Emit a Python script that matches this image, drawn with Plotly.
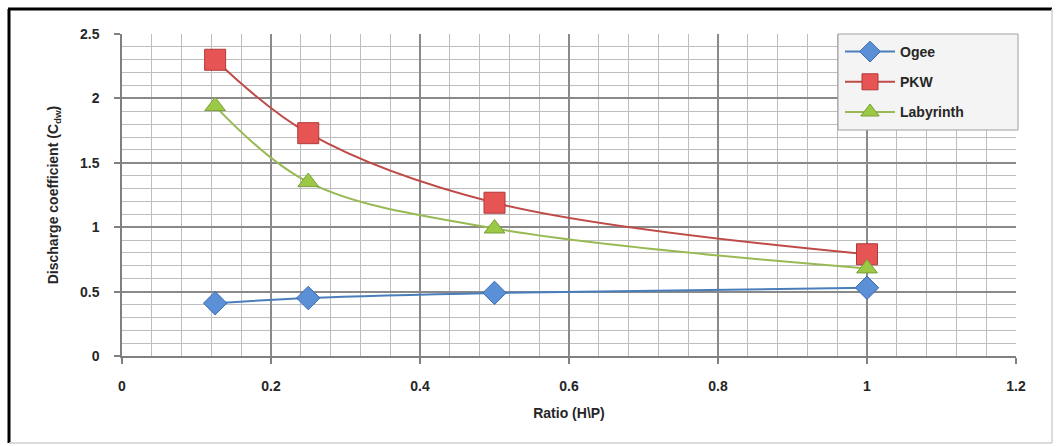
import plotly.graph_objects as go

ratio = [0.125, 0.25, 0.5, 1.0]
ogee = [0.41, 0.45, 0.49, 0.53]
pkw = [2.30, 1.73, 1.19, 0.79]
labyrinth = [1.94, 1.35, 0.99, 0.68]

x_ticks = [0, 0.2, 0.4, 0.6, 0.8, 1, 1.2]
x_tick_text = ["0", "0.2", "0.4", "0.6", "0.8", "1", "1.2"]
y_ticks = [0, 0.5, 1, 1.5, 2, 2.5]
y_tick_text = ["0", "0.5", "1", "1.5", "2", "2.5"]

W, H = 1057, 446
L, R, T, B = 122, 41, 34, 90
pw, ph = W - L - R, H - T - B

def px(x):
    return (x - L) / pw

def py(y):
    return (H - B - y) / ph

font = "Liberation Sans"
txt = "#262626"
bold = dict(family=font, size=14, color=txt, weight=700)

fig = go.Figure()
fig.add_trace(go.Scatter(
    x=ratio, y=ogee, name="Ogee", mode="lines+markers", legendgroup="a",
    line=dict(color="#4A7EBB", width=2, shape="spline"),
    marker=dict(symbol="diamond", size=18, color="#5B8FD6",
                line=dict(color="#3A6BB0", width=1))))
fig.add_trace(go.Scatter(
    x=ratio, y=pkw, name="PKW", mode="lines+markers", legendgroup="b",
    line=dict(color="#BE4B48", width=2, shape="spline"),
    marker=dict(symbol="square", size=21, color="#E65454",
                line=dict(color="#B03A38", width=1))))
fig.add_trace(go.Scatter(
    x=ratio, y=labyrinth, name="Labyrinth", mode="lines+markers", legendgroup="c",
    line=dict(color="#98B954", width=2, shape="spline"),
    marker=dict(symbol="triangle-up", size=18, color="#9BC946",
                line=dict(color="#7A9E3A", width=1))))

fig.update_layout(
    width=W, height=H,
    margin=dict(l=L, r=R, t=T, b=B),
    paper_bgcolor="white", plot_bgcolor="white",
    font=dict(family=font, size=14, color=txt),
    showlegend=True,
    legend=dict(x=px(840), y=py(36), xanchor="left", yanchor="top",
                bgcolor="rgba(0,0,0,0)", borderwidth=0,
                font=bold, tracegroupgap=9, itemwidth=50),
    xaxis=dict(range=[0, 1.2], tickvals=x_ticks, ticktext=x_tick_text,
               showgrid=True, gridcolor="#8A8A8A", gridwidth=1.5,
               minor=dict(dtick=0.04, showgrid=True, gridcolor="#BDBDBD", gridwidth=1),
               showline=True, linecolor="#808080", linewidth=1.5,
               ticks="outside", ticklen=6, tickcolor="#808080", tickwidth=1.5,
               ticklabelstandoff=10,
               zeroline=False, tickfont=bold,
               title=dict(text="Ratio (H\\P)", font=bold, standoff=16)),
    yaxis=dict(range=[0, 2.5], tickvals=y_ticks, ticktext=y_tick_text,
               showgrid=True, gridcolor="#8A8A8A", gridwidth=1.5,
               minor=dict(dtick=0.1, showgrid=True, gridcolor="#BDBDBD", gridwidth=1),
               showline=True, linecolor="#808080", linewidth=1.5,
               ticks="outside", ticklen=6, tickcolor="#808080", tickwidth=1.5,
               ticklabelstandoff=12,
               zeroline=False, tickfont=bold,
               title=dict(text="Discharge coefficient (C<sub>dw</sub>)",
                          font=bold, standoff=18)),
)

# legend box
fig.add_shape(type="rect", xref="paper", yref="paper", layer="above",
              x0=px(838), x1=px(1018), y0=py(130), y1=py(34),
              fillcolor="#F4F4F4", line=dict(color="#A0A0A0", width=1))

# outer frame: black on left/top, light gray on right/bottom
fig.add_shape(type="line", xref="paper", yref="paper",
              x0=px(9), x1=px(9), y0=py(9), y1=py(443),
              line=dict(color="black", width=3))
fig.add_shape(type="line", xref="paper", yref="paper",
              x0=px(8), x1=px(1052), y0=py(9), y1=py(9),
              line=dict(color="black", width=3))
fig.add_shape(type="line", xref="paper", yref="paper",
              x0=px(1052), x1=px(1052), y0=py(9), y1=py(443),
              line=dict(color="#D0D0D0", width=1.5))
fig.add_shape(type="line", xref="paper", yref="paper",
              x0=px(9), x1=px(1052), y0=py(443), y1=py(443),
              line=dict(color="#D0D0D0", width=1.5))

fig.write_html("out.html")
